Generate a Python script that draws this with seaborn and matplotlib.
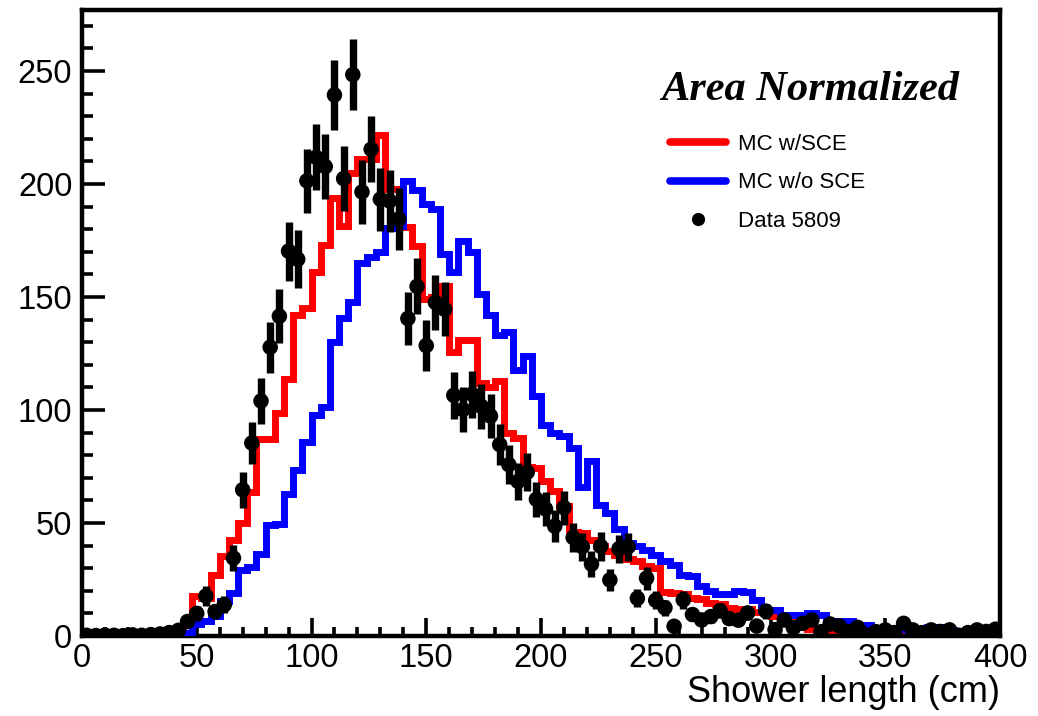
import numpy as np
import pandas as pd
import matplotlib
matplotlib.use("Agg")
import matplotlib.pyplot as plt
import seaborn as sns
from matplotlib.lines import Line2D
from matplotlib.ticker import MultipleLocator

# ---------------- data ----------------
bin_edges = list(range(0, 404, 4))          # 100 bins of 4 cm, 0..400 cm
bin_centers = [e + 2 for e in bin_edges[:-1]]

mc_sce = [
    0.2, 0.2, 0.3, 0.2, 0.4, 0.3, 0.5, 0.8, 1.5, 2.2,
    3.0, 6.0, 17.5, 17.0, 27.0, 35.5, 42.5, 50.0, 63.5, 87.0,
    87.0, 98.5, 113.5, 142.0, 145.0, 161.0, 173.0, 194.0, 181.5, 205.0,
    211.0, 211.0, 221.5, 198.0, 198.0, 181.0, 172.5, 149.0, 150.0, 155.0,
    125.5, 131.0, 131.0, 112.0, 110.0, 113.0, 90.0, 87.5, 75.0, 74.5,
    68.5, 64.0, 57.5, 46.0, 45.5, 42.5, 40.0, 37.5, 36.0, 34.0,
    33.0, 31.0, 30.0, 19.5, 19.0, 18.5, 17.0, 16.5, 14.5, 14.0,
    12.5, 12.0, 12.0, 10.5, 10.5, 9.0, 9.0, 8.0, 4.5, 3.0,
    2.5, 2.0, 2.5, 1.5, 2.0, 1.5, 1.0, 1.5, 1.0, 1.2,
    0.8, 1.0, 0.8, 1.2, 0.6, 1.0, 0.5, 0.8, 0.5, 0.6,
]

mc_nosce = [
    0.2, 0.3, 0.2, 0.3, 0.2, 0.3, 0.4, 0.3, 0.5, 0.6,
    0.8, 1.5, 5.5, 6.5, 9.0, 15.5, 19.0, 29.0, 30.5, 36.5,
    49.0, 49.5, 63.0, 73.5, 86.0, 98.0, 101.5, 130.0, 140.5, 148.0,
    165.0, 167.5, 170.0, 180.5, 181.5, 201.5, 197.5, 191.0, 189.0, 169.0,
    161.0, 175.0, 170.0, 151.5, 142.0, 133.0, 134.5, 117.5, 124.0, 106.0,
    93.5, 90.0, 88.5, 83.0, 66.0, 77.5, 58.0, 54.5, 47.5, 41.0,
    40.0, 38.0, 36.0, 33.0, 31.5, 27.0, 26.5, 22.0, 20.0, 18.5,
    18.5, 20.0, 19.5, 16.0, 11.5, 11.5, 9.5, 9.5, 9.5, 10.0,
    9.5, 6.5, 6.5, 6.5, 5.0, 5.0, 3.5, 3.5, 3.5, 3.0,
    2.5, 2.5, 4.0, 4.0, 2.5, 2.0, 2.0, 1.5, 1.5, 1.0,
]

data_5809 = [
    0.3, 0.2, 0.4, 0.3, 0.2, 0.5, 0.3, 0.6, 0.9, 1.5,
    2.5, 6.4, 10.0, 17.7, 10.8, 13.8, 34.5, 64.7, 85.4, 104.0,
    127.8, 141.5, 170.3, 166.7, 201.4, 211.8, 207.7, 239.4, 202.4, 248.4,
    196.5, 215.4, 193.3, 192.5, 184.5, 140.5, 154.7, 128.5, 147.6, 144.6,
    106.5, 100.2, 107.0, 101.6, 97.3, 84.7, 75.8, 68.4, 72.5, 60.5,
    56.2, 48.6, 56.8, 43.6, 39.5, 31.8, 39.7, 24.8, 38.6, 39.5,
    16.7, 25.6, 15.8, 12.5, 4.3, 16.0, 9.5, 7.1, 8.6, 11.2,
    7.7, 7.0, 10.2, 4.4, 11.0, 2.8, 7.1, 3.6, 5.6, 7.1,
    1.9, 5.3, 4.4, 1.9, 3.8, 0.5, 1.9, 2.7, 1.5, 5.6,
    2.7, 1.5, 2.7, 2.0, 2.7, 0.3, 1.5, 2.7, 2.0, 3.0,
]

x_ticks = [0, 50, 100, 150, 200, 250, 300, 350, 400]
y_ticks = [0, 50, 100, 150, 200, 250]
legend_labels = ["MC w/SCE", "MC w/o SCE", "Data 5809"]
title_text = "Area Normalized"
x_label = "Shower length (cm)"

# ---------------- style ----------------
sns.set_style("white")
plt.rcParams['font.family'] = ['Liberation Sans', 'DejaVu Sans']
plt.rcParams.update({
    "text.color": "black",
    "axes.labelcolor": "black",
    "xtick.color": "black",
    "ytick.color": "black",
    "axes.edgecolor": "black",
})

W, H = 1038, 716
fig = plt.figure(figsize=(W / 100, H / 100), dpi=100)
ax = fig.add_axes([82 / W, 1 - 636 / H, 918 / W, 626 / H])

df = pd.DataFrame({"x": bin_centers, "sce": mc_sce, "nosce": mc_nosce, "data": data_5809})

sns.histplot(data=df, x="x", weights="sce", bins=bin_edges, element="step",
             fill=False, color="#ff0000", linewidth=5.0, ax=ax,
             solid_joinstyle="miter", zorder=2)
sns.histplot(data=df, x="x", weights="nosce", bins=bin_edges, element="step",
             fill=False, color="#0000ff", linewidth=5.0, ax=ax,
             solid_joinstyle="miter", zorder=3)

yerr = np.sqrt(df["data"].to_numpy())
ax.errorbar(df["x"], df["data"], yerr=yerr, fmt="none", ecolor="black",
            elinewidth=5.3, capsize=0, zorder=4)
sns.scatterplot(data=df, x="x", y="data", color="black", s=125,
                edgecolor="none", ax=ax, zorder=5)

ax.set_xlim(0, 400)
ax.set_ylim(0, 277)
ax.set_xticks(x_ticks)
ax.set_yticks(y_ticks)
ax.xaxis.set_minor_locator(MultipleLocator(10))
ax.yaxis.set_minor_locator(MultipleLocator(10))

ax.tick_params(axis="both", which="both", direction="in", bottom=True, left=True,
               top=False, right=False, width=2.6, color="black", labelcolor="black")
ax.tick_params(axis="x", which="major", length=13, labelsize=23.5, pad=5)
ax.tick_params(axis="x", which="minor", length=6.5)
ax.tick_params(axis="y", which="major", length=16.5, labelsize=23.5, pad=7)
ax.tick_params(axis="y", which="minor", length=8)

for s in ax.spines.values():
    s.set_visible(True)
    s.set_linewidth(3.2)
    s.set_color("black")

ax.set_ylabel("")
ax.set_xlabel(x_label, loc="right", fontsize=26, labelpad=1, color="black")

ax.text(0.7935, 0.872, title_text, transform=ax.transAxes, ha="center", va="center",
        fontsize=30.5, fontweight="bold", fontstyle="italic", color="black",
        family=["Liberation Serif", "DejaVu Serif"])

handles = [
    Line2D([], [], color="#ff0000", lw=5.5),
    Line2D([], [], color="#0000ff", lw=5.5),
    Line2D([], [], color="black", marker="o", ls="none", markersize=8.5),
]
ax.legend(handles, legend_labels, loc="upper left", bbox_to_anchor=(0.6405, 0.802),
          frameon=False, fontsize=16, handlelength=2.5, handletextpad=0.55,
          labelspacing=0.78, borderpad=0, borderaxespad=0, labelcolor="black")

fig.savefig("out.png", dpi=100)
